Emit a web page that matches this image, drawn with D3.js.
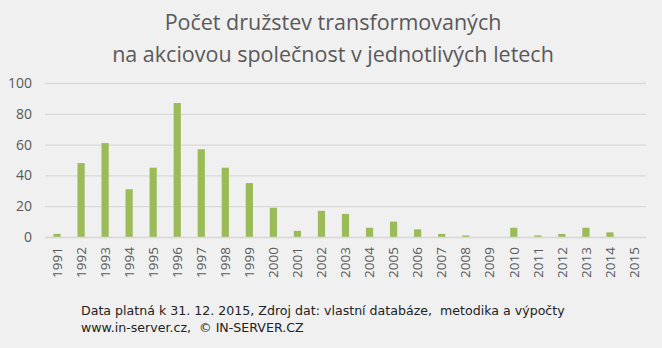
<!DOCTYPE html>
<html><head><meta charset="utf-8">
<script src="https://cdn.jsdelivr.net/npm/d3@7"></script>
<style>body{margin:0;background:#f0f0f0;}svg{display:block;}</style>
</head><body>
<script>
const years = ["1991","1992","1993","1994","1995","1996","1997","1998","1999","2000","2001","2002","2003","2004","2005","2006","2007","2008","2009","2010","2011","2012","2013","2014","2015"];
const counts = [2,48,61,31,45,87,57,45,35,19,4,17,15,6,10,5,2,1,0,6,1,2,6,3,0];
const yTicks = [0,20,40,60,80,100];
const titleLines = ["Počet družstev transformovaných","na akciovou společnost v jednotlivých letech"];
const footerLines = ["Data platná k 31. 12. 2015, Zdroj dat: vlastní databáze,  metodika a výpočty","www.in-server.cz,  © IN-SERVER.CZ"];

const W=662,H=348;
const m={left:45,right:16,top:83,bottom:111};
const svg=d3.select("body").append("svg").attr("width",W).attr("height",H);
svg.append("rect").attr("width",W).attr("height",H).attr("fill","#f0f0f0");

const x=d3.scaleBand().domain(years).range([m.left,W-m.right]).paddingInner(0.7).paddingOuter(0.35);
const y=d3.scaleLinear().domain([0,100]).range([H-m.bottom,m.top]);

const g=svg.append("g").attr("transform",`translate(${m.left},0)`)
 .call(d3.axisLeft(y).tickValues(yTicks).tickSize(-(W-m.left-m.right)).tickPadding(13));
g.select(".domain").remove();
g.selectAll(".tick line").attr("stroke","#d9d9d9").attr("stroke-width",1.3);
g.selectAll(".tick text").attr("fill","#595959").attr("font-family","Open Sans, sans-serif").attr("font-size","14px");

svg.selectAll("rect.bar").data(counts).enter().append("rect").attr("class","bar")
 .attr("x",(d,i)=>x(years[i])).attr("width",x.bandwidth())
 .attr("y",d=>y(d)).attr("height",d=>y(0)-y(d)).attr("fill","#9bbb59");

const xa=svg.append("g").attr("transform",`translate(0,${H-m.bottom})`)
 .call(d3.axisBottom(x).tickSize(0).tickPadding(0));
xa.select(".domain").attr("stroke","#d9d9d9").attr("stroke-width",1.3);
xa.selectAll(".tick text").attr("fill","#595959").attr("font-family","Open Sans, sans-serif").attr("font-size","13.5px")
 .attr("transform","rotate(-90)").attr("text-anchor","end").attr("x",-10).attr("y",0).attr("dy","0.35em");

svg.append("g").selectAll("text").data(titleLines).enter().append("text")
 .attr("x",333).attr("y",(d,i)=>30+i*32).attr("text-anchor","middle")
 .attr("font-family","Open Sans, sans-serif").attr("font-size","21.5px").attr("fill","#595959").text(d=>d);

svg.append("g").selectAll("text").data(footerLines).enter().append("text")
 .attr("x",81).attr("y",(d,i)=>315+i*17).attr("xml:space","preserve").style("white-space","pre")
 .attr("font-family","DejaVu Sans, sans-serif").attr("font-size","12.6px").attr("fill","#222").text(d=>d);
</script>
</body></html>
